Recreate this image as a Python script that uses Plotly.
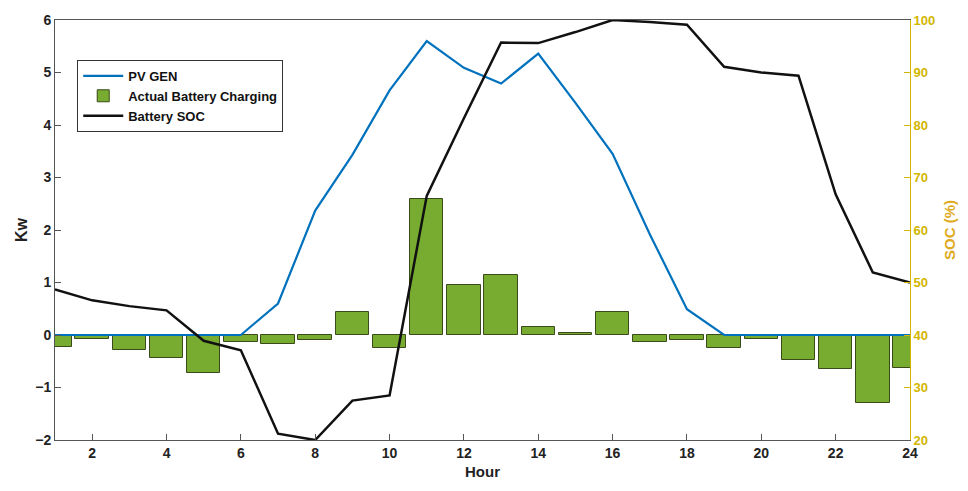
import plotly.graph_objects as go

hours = list(range(1, 25))

# PV generation (kW)
pv_gen = [0, 0, 0, 0, 0, 0, 0.6, 2.37, 3.43, 4.66, 5.6, 5.09, 4.79, 5.36,
          4.42, 3.45, 1.92, 0.49, 0, 0, 0, 0, 0, 0]

# Actual battery charging (kW), negative = discharging
battery_charging = [-0.22, -0.08, -0.29, -0.43, -0.72, -0.14, -0.17, -0.1, 0.43, -0.25,
                    2.6, 0.95, 1.15, 0.15, 0.04, 0.43, -0.13, -0.1, -0.25, -0.07,
                    -0.48, -0.65, -1.3, -0.63]

# Battery state of charge (%)
battery_soc = [48.7, 46.6, 45.5, 44.7, 38.9, 37.1, 21.2, 20.0, 27.5, 28.5,
               66.5, 81.3, 95.7, 95.6, 97.7, 100.0, 99.6, 99.1, 91.1, 90.0,
               89.4, 66.8, 51.9, 50.0]

kw_ticks = [-2, -1, 0, 1, 2, 3, 4, 5, 6]
soc_ticks = [20, 30, 40, 50, 60, 70, 80, 90, 100]
hour_ticks = list(range(2, 25, 2))

FONT = "Liberation Sans"
SOC_COLOR = "#d2b600"

fig = go.Figure()

fig.add_trace(go.Scatter(
    x=hours, y=pv_gen, name="PV GEN", mode="lines",
    line=dict(color="#0072bd", width=2.2), yaxis="y",
))
fig.add_trace(go.Bar(
    x=hours, y=battery_charging, name="Actual Battery Charging",
    width=0.9, marker=dict(color="#77ac30", line=dict(color="#3a4a1a", width=1)),
    yaxis="y",
))
fig.add_trace(go.Scatter(
    x=hours, y=battery_soc, name="Battery SOC", mode="lines",
    line=dict(color="#111111", width=2.5), yaxis="y2",
))

fig.update_layout(
    width=968, height=491,
    margin=dict(l=55, r=58, t=15, b=51),
    paper_bgcolor="white", plot_bgcolor="white",
    font=dict(family=FONT, size=14, color="#222222"),
    showlegend=True,
    legend=dict(
        x=0.026, y=0.905, xanchor="left", yanchor="top",
        bgcolor="white", bordercolor="#333333", borderwidth=1,
        font=dict(family=FONT, size=13, color="#111111", weight="bold"),
        traceorder="normal", tracegroupgap=0, itemwidth=40,
    ),
    bargap=0,
    xaxis=dict(
        range=[1, 24], tickvals=hour_ticks, ticks="inside", ticklen=6,
        tickcolor="#555555", showline=True, linecolor="#555555", linewidth=1,
        mirror=True, showgrid=False, zeroline=False,
        tickfont=dict(family=FONT, size=14, color="#222222", weight="bold"),
        title=dict(text="Hour", standoff=6,
                   font=dict(family=FONT, size=15, color="#222222", weight="bold")),
    ),
    yaxis=dict(
        range=[-2, 6], tickvals=kw_ticks, ticks="inside", ticklen=6,
        tickcolor="#555555", showline=True, linecolor="#555555", linewidth=1,
        showgrid=False, zeroline=False,
        tickfont=dict(family=FONT, size=14, color="#222222", weight="bold"),
        title=dict(text="Kw", standoff=3,
                   font=dict(family=FONT, size=16, color="#222222", weight="bold")),
    ),
    yaxis2=dict(
        range=[20, 100], tickvals=soc_ticks, overlaying="y", side="right",
        ticks="inside", ticklen=6, tickcolor=SOC_COLOR,
        showline=True, linecolor=SOC_COLOR, linewidth=1,
        showgrid=False, zeroline=False,
        tickfont=dict(family=FONT, size=13, color=SOC_COLOR, weight="bold"),
        title=dict(text="SOC (%)", standoff=10,
                   font=dict(family=FONT, size=15, color="#e0aa20", weight="bold")),
    ),
)

fig.write_html("out.html")
